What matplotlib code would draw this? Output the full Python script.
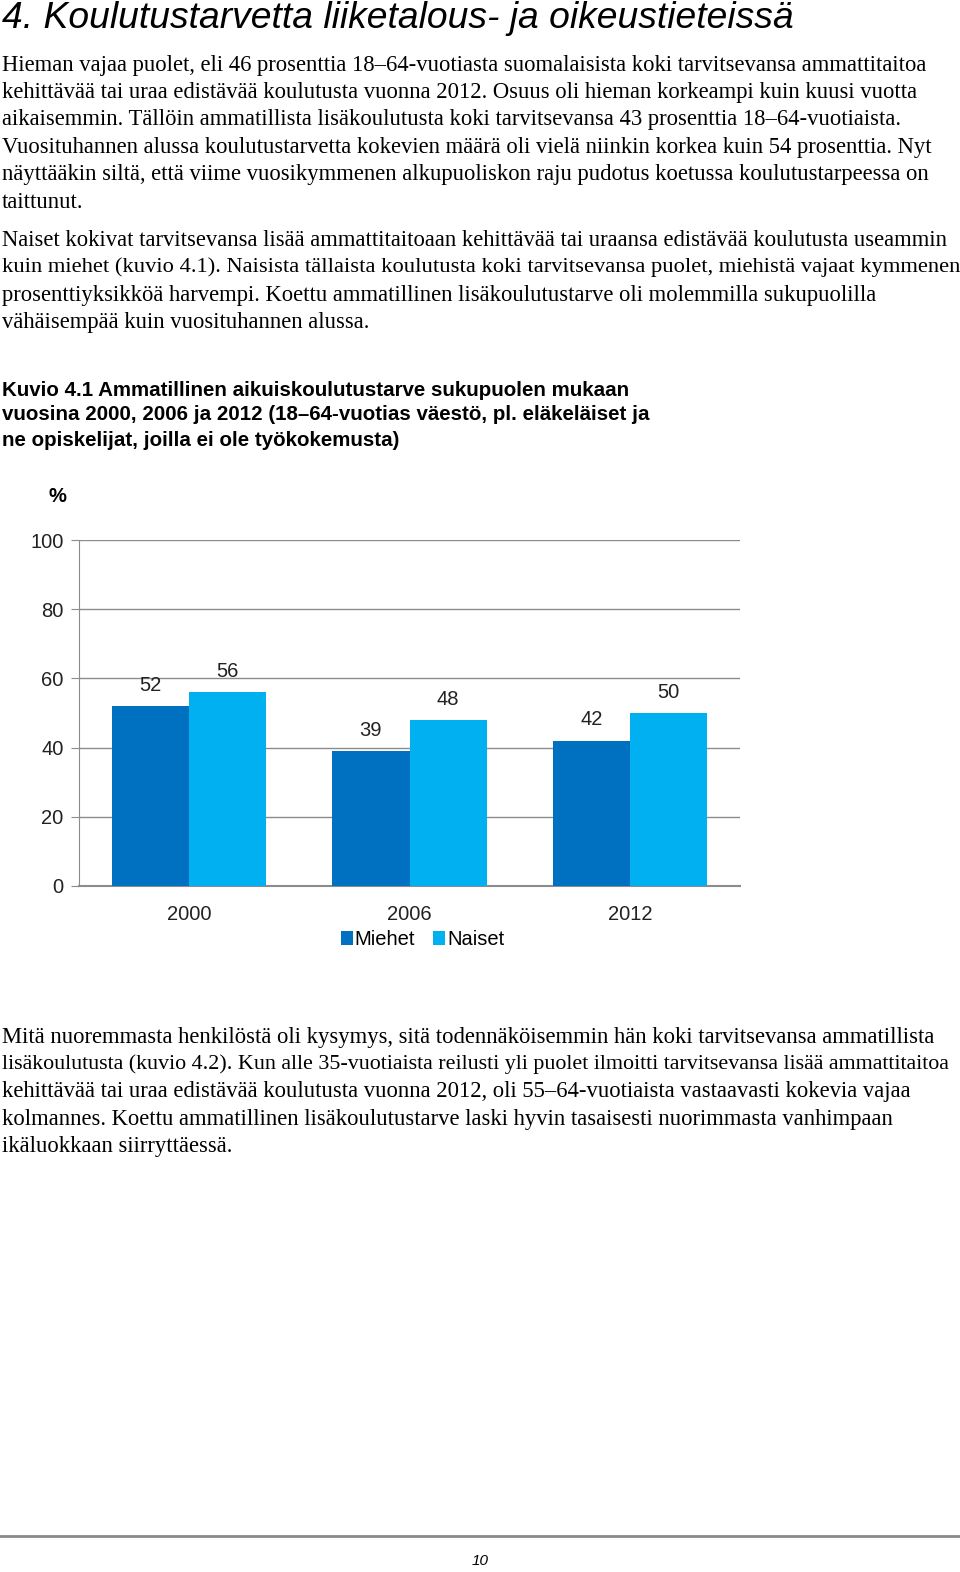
import matplotlib
matplotlib.use("Agg")
import matplotlib.pyplot as plt
import numpy as np

# ======================
# DONNÉES
# ======================
years = ["2000", "2006", "2012"]
miehet = [52, 39, 42]
naiset = [56, 48, 50]
series_names = ["Miehet", "Naiset"]
yticks = [0, 20, 40, 60, 80, 100]

title = "4. Koulutustarvetta liiketalous- ja oikeustieteissä"
para1 = [
    "Hieman vajaa puolet, eli 46 prosenttia 18–64-vuotiasta suomalaisista koki tarvitsevansa ammattitaitoa",
    "kehittävää tai uraa edistävää koulutusta vuonna 2012. Osuus oli hieman korkeampi kuin kuusi vuotta",
    "aikaisemmin. Tällöin ammatillista lisäkoulutusta koki tarvitsevansa 43 prosenttia 18–64-vuotiaista.",
    "Vuosituhannen alussa koulutustarvetta kokevien määrä oli vielä niinkin korkea kuin 54 prosenttia. Nyt",
    "näyttääkin siltä, että viime vuosikymmenen alkupuoliskon raju pudotus koetussa koulutustarpeessa on",
    "taittunut.",
]
para2 = [
    "Naiset kokivat tarvitsevansa lisää ammattitaitoaan kehittävää tai uraansa edistävää koulutusta useammin",
    "kuin miehet (kuvio 4.1). Naisista tällaista koulutusta koki tarvitsevansa puolet, miehistä vajaat kymmenen",
    "prosenttiyksikköä harvempi. Koettu ammatillinen lisäkoulutustarve oli molemmilla sukupuolilla",
    "vähäisempää kuin vuosituhannen alussa.",
]
caption = [
    "Kuvio 4.1 Ammatillinen aikuiskoulutustarve sukupuolen mukaan",
    "vuosina 2000, 2006 ja 2012 (18–64-vuotias väestö, pl. eläkeläiset ja",
    "ne opiskelijat, joilla ei ole työkokemusta)",
]
para3 = [
    "Mitä nuoremmasta henkilöstä oli kysymys, sitä todennäköisemmin hän koki tarvitsevansa ammatillista",
    "lisäkoulutusta (kuvio 4.2). Kun alle 35-vuotiaista reilusti yli puolet ilmoitti tarvitsevansa lisää ammattitaitoa",
    "kehittävää tai uraa edistävää koulutusta vuonna 2012, oli 55–64-vuotiaista vastaavasti kokevia vajaa",
    "kolmannes. Koettu ammatillinen lisäkoulutustarve laski hyvin tasaisesti nuorimmasta vanhimpaan",
    "ikäluokkaan siirryttäessä.",
]

W, H = 960, 1572
fig = plt.figure(figsize=(W / 100, H / 100), dpi=100)
fig.patch.set_facecolor("white")
renderer = fig.canvas.get_renderer()


def fy(y):
    return 1 - y / H


def draw_lines(lines, y0, step, max_px=954, **kw):
    for i, line in enumerate(lines):
        t = fig.text(0.002, fy(y0 + i * step), line, va="center", ha="left", **kw)
        # lignes trop longues : on réduit un peu la taille (texte serré dans l'original)
        wpx = t.get_window_extent(renderer).width
        if wpx > max_px:
            t.set_fontsize(t.get_fontsize() * max_px / wpx)


serif = dict(family="Liberation Serif", fontsize=16.3, color="black")
fig.text(0.002, fy(19), title, family="Liberation Sans", style="italic",
         fontsize=26.8, va="center", ha="left")
draw_lines(para1, 65, 27.4, **serif)
draw_lines(para2, 240, 27.6, **serif)
draw_lines(caption, 390, 25, family="Liberation Sans", weight="bold", fontsize=14.8)
draw_lines(para3, 1037, 27.4, **serif)

# ======================
# GRAPHIQUE
# ======================
ax = fig.add_axes([79 / W, 1 - 886 / H, (740 - 79) / W, (886 - 540) / H])
x = np.arange(len(years))
w = 0.35
c_m, c_n = "#0070C0", "#00B0F0"
b1 = ax.bar(x - w / 2, miehet, w, color=c_m, label=series_names[0], zorder=3)
b2 = ax.bar(x + w / 2, naiset, w, color=c_n, label=series_names[1], zorder=3)
for bars in (b1, b2):
    for b in bars:
        ax.annotate(f"{b.get_height():.0f}", (b.get_x() + b.get_width() / 2, b.get_height()),
                    xytext=(0, 15), textcoords="offset points", ha="center", va="center",
                    fontsize=14.5, family="Liberation Sans", color="#222222")

ax.set_xlim(-0.5, 2.5)
ax.set_ylim(0, 100)
ax.set_yticks(yticks)
ax.set_xticks(x)
ax.set_xticklabels(years)
ax.yaxis.grid(True, color="#8c8c8c", linewidth=1.0, zorder=0)
for s in ["top", "right"]:
    ax.spines[s].set_visible(False)
ax.spines["left"].set_color("#8c8c8c")
ax.spines["bottom"].set_color("#8c8c8c")
ax.spines["bottom"].set_linewidth(1.5)
ax.tick_params(axis="y", length=6, color="#8c8c8c", labelsize=14.5, pad=5)
ax.tick_params(axis="x", length=0, labelsize=14.5, pad=14)
for lab in ax.get_xticklabels() + ax.get_yticklabels():
    lab.set_family("Liberation Sans")
    lab.set_color("#222222")
fig.text(57 / W, fy(497), "%", family="Liberation Sans", weight="bold",
         fontsize=14.5, ha="center", va="center")
ax.legend(loc="center", bbox_to_anchor=(0.52, -0.155), ncol=2, frameon=False,
          handlelength=0.6, handleheight=0.7, handletextpad=0.1, columnspacing=0.9,
          prop={"family": "Liberation Sans", "size": 14.5})

# ======================
# PIED DE PAGE
# ======================
fig.add_artist(plt.Line2D([0, 1], [fy(1536), fy(1536)], color="#8a8a8a", linewidth=2))
fig.text(0.5, fy(1561), "10", family="Liberation Sans", style="italic",
         fontsize=11, ha="center", va="center")

fig.savefig("out.png", dpi=100, facecolor="white")
